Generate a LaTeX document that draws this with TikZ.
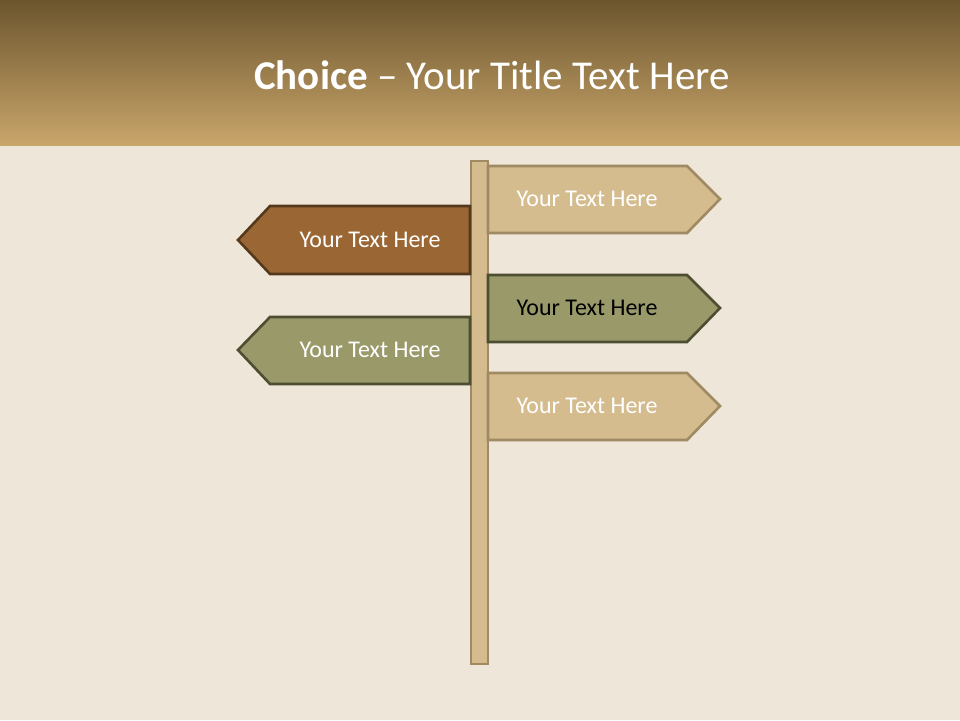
\documentclass[tikz,border=0pt]{standalone}
\usepackage{fontspec}
\setmainfont{Carlito}
\usetikzlibrary{calc}
\definecolor{hdtop}{HTML}{6C552E}
\definecolor{hdbot}{HTML}{C9A66B}
\definecolor{paper}{HTML}{EEE6D8}
\definecolor{tanfill}{HTML}{D4BC8E}
\definecolor{tanline}{HTML}{A08A64}
\definecolor{brfill}{HTML}{9A6633}
\definecolor{brline}{HTML}{55391C}
\definecolor{olfill}{HTML}{99996A}
\definecolor{olline}{HTML}{4D4D31}

\begin{document}
\begin{tikzpicture}[
  x=1pt, y=-1pt,
  signtxt/.style={font=\fontsize{24}{28}\selectfont, text=white, inner sep=0pt},
  tansign/.style={fill=tanfill, draw=tanline, line width=2.6pt, line join=miter},
  brsign/.style={fill=brfill, draw=brline, line width=2.6pt, line join=miter},
  olsign/.style={fill=olfill, draw=olline, line width=2.6pt, line join=miter},
]

% ══════════════════════════════════════════════════════
% Background and header
% ══════════════════════════════════════════════════════
\fill[paper] (0,0) rectangle (960,720);
\shade[top color=hdtop, bottom color=hdbot] (0,0) rectangle (960,145);
\useasboundingbox (0,0) rectangle (960,720);

\node[text=white, font=\fontsize{41}{48}\selectfont] (title) at (492,75)
  {\textbf{Choice} -- Your Title Text Here};

% ══════════════════════════════════════════════════════
% Post
% ══════════════════════════════════════════════════════
\draw[fill=tanfill, draw=tanline, line width=2.2pt]
  (471,161) rectangle (488,664);

% ══════════════════════════════════════════════════════
% Signs pointing right
% ══════════════════════════════════════════════════════
\draw[tansign] (488,166) -- (687,166) -- (720,199) -- (687,233) -- (488,233) -- cycle;
\node[signtxt] (signa) at (587,199) {Your Text Here};

\draw[olsign] (488,275) -- (687,275) -- (720,308) -- (687,342) -- (488,342) -- cycle;
\node[signtxt, text=black] (signc) at (587,308) {Your Text Here};

\draw[tansign] (488,373) -- (687,373) -- (720,406) -- (687,440) -- (488,440) -- cycle;
\node[signtxt] (signe) at (587,406) {Your Text Here};

% ══════════════════════════════════════════════════════
% Signs pointing left
% ══════════════════════════════════════════════════════
\draw[brsign] (470,206) -- (270,206) -- (238,240) -- (270,274) -- (470,274) -- cycle;
\node[signtxt] (signb) at (370,240) {Your Text Here};

\draw[olsign] (470,317) -- (270,317) -- (238,350) -- (270,384) -- (470,384) -- cycle;
\node[signtxt] (signd) at (370,350) {Your Text Here};

\end{tikzpicture}
\end{document}
